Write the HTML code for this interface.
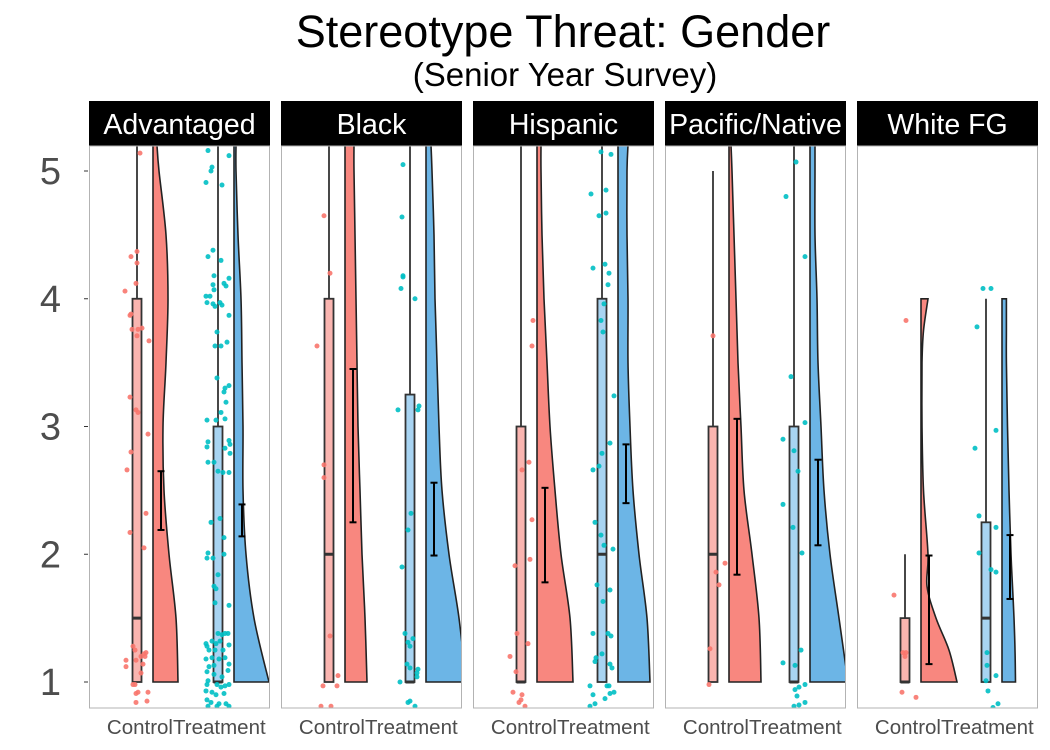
<!DOCTYPE html>
<html><head><meta charset="utf-8">
<style>
html,body{margin:0;padding:0;background:#fff;}
svg{display:block;font-family:"Liberation Sans",sans-serif;}
</style></head>
<body>
<svg id="chart" width="1050" height="750" viewBox="0 0 1050 750">
<text x="563" y="47" text-anchor="middle" font-size="45" fill="#000">Stereotype Threat: Gender</text>
<text x="565" y="86" text-anchor="middle" font-size="33" fill="#000">(Senior Year Survey)</text>
<g id="root"></g>
</svg>
<script>
const panels = ["Advantaged","Black","Hispanic","Pacific/Native","White FG"];
const groups = ["Control","Treatment"];
const yTicks = [1,2,3,4,5];
const gridA = [1,1.5,2,2.5,3,3.5,4,4.5,5,5.2];
const gridB = [1,1.25,1.5,1.75,2,2.5,3,3.5,3.75,4];
const densControl = [
 [25,23,16,11,10,13,15,13,6,4],
 [22,20,17,15,13,12,11,10,9,9],
 [36,33,24,18,13,10,7,5,4,4],
 [32,30,23,15,12,9,7,5,3,2],
 [36,28,15,6,7,2.5,1,1,2.5,7]
];
const densTreat = [
 [35,20,12,9,9,8,7,4,2,2],
 [40,33,23,16,13,11,9,8,6,5],
 [32,29,21,15,12,10,10,9,9,10],
 [38,29,20,14,11,8,7,5,5,5],
 [13.5,13,12,10.5,9,7,5.5,4.4,4.4,4.4]
];
const boxControl = [[1,1,1.5,4,5.2],[1,1,2,4,5.2],[1,1,1,3,5.2],[1,1,2,3,5],[1,1,1,1.5,2]];
const boxTreat = [[1,1,1,3,5.2],[1,1,1,3.25,5.2],[1,1,2,4,5.2],[1,1,1,3,5.2],[1,1,1.5,2.25,4]];
const errControl = [[2.19,2.65],[2.25,3.45],[1.78,2.52],[1.84,3.06],[1.14,1.99]];
const errTreat = [[2.14,2.39],[1.99,2.56],[2.40,2.86],[2.07,2.74],[1.65,2.15]];
const ptsControl = [
 [[5.14,3],[4.37,0],[4.33,-6],[4.28,0],[4.12,-1],[4.06,-12],[3.87,-7],[3.88,-6],[3.76,-5],[3.76,1],[3.77,5],[3.71,0],[3.67,12],[3.23,-7],[3.13,-1],[3.11,1],[2.94,11],[2.80,-6],[2.66,-10],[2.32,9],[2.17,-7],[2.05,7],[1.28,-4],[1.25,-2],[1.23,9],[1.22,7],[1.20,4],[1.17,-11],[1.17,-1],[1.20,8],[1.14,6],[1.12,-11],[1.07,4],[0.98,-4],[0.98,-2],[0.92,1],[0.91,-1],[0.92,11],[0.85,10],[0.84,-1]],
 [[4.65,-5],[4.20,1],[3.63,-12],[2.70,-5],[2.60,-5],[1.36,1],[1.05,9],[0.97,-6],[0.97,8],[0.81,-8],[0.81,2]],
 [[3.83,12],[3.63,11],[2.72,8],[2.66,1],[2.27,11],[1.96,9],[1.91,-6],[1.38,-4],[1.30,7],[1.20,-11],[1.08,-5],[0.92,-8],[0.90,1],[0.86,0],[0.81,4],[0.84,-2]],
 [[3.71,0],[1.93,12],[1.86,3],[1.76,6],[1.26,-3],[0.98,-4]],
 [[3.83,1],[1.68,-11],[1.23,-2],[1.20,0],[1.23,1],[0.92,-3],[0.88,11]]
];
const ptsTreat = [
 [[5.16,-10],[5.12,11],[5.03,-6],[5.00,-7],[4.91,-12],[4.89,4],[4.38,-5],[4.33,-10],[4.30,3],[4.18,-4],[4.16,11],[4.12,6],[4.10,8],[4.11,-5],[4.07,-4],[4.02,-12],[4.02,-8],[3.97,-11],[3.96,-5],[3.97,2],[3.94,-3],[3.95,4],[3.87,11],[3.74,-1],[3.63,-3],[3.63,3],[3.66,9],[3.38,-1],[3.32,11],[3.30,7],[3.27,6],[3.19,8],[3.11,3],[3.05,-2],[3.05,-11],[3.06,7],[2.89,11],[2.86,12],[2.88,-10],[2.84,-11],[2.83,7],[2.79,12],[2.72,-10],[2.72,-4],[2.65,0],[2.64,5],[2.64,11],[2.25,-7],[2.28,2],[2.13,6],[2.01,-10],[2.00,6],[1.97,-11],[1.97,-5],[1.84,0],[1.75,-4],[1.73,-2],[1.62,-3],[1.60,11],
  [1.38,0],[1.37,4],[1.38,7],[1.38,10],[1.30,-12],[1.32,-6],[1.30,-2],[1.32,2],[1.29,11],[1.28,-11],[1.25,-9],[1.25,-3],[1.25,5],[1.19,7],[1.18,-12],[1.19,-6],[1.18,1],[1.12,-9],[1.13,-4],[1.14,11],[1.08,-11],[1.09,10],[1.06,-4],[1.04,4],[1.01,-10],[0.98,-11],[0.98,-1],[0.96,3],[0.97,7],[0.98,11],[0.93,-12],[0.92,-6],[0.90,-2],[0.91,6],[0.86,-11],[0.84,-7],[0.83,1],[0.83,8],[0.81,-10],[0.81,-1],[0.81,11]],
 [[5.05,-7],[4.64,-8],[4.18,-7],[4.17,-7],[4.08,-9],[4.0,5],[3.13,-12],[3.16,9],[3.13,8],[2.32,1],[2.19,-2],[1.90,-8],[1.38,-5],[1.34,3],[1.31,-2],[1.28,0],[1.14,-3],[1.10,8],[1.07,7],[1.04,7],[1.11,0],[1.0,-10],[0.85,0],[0.84,-2],[0.81,5]],
 [[5.15,-1],[5.13,9],[4.82,-11],[4.85,4],[4.65,-3],[4.67,4],[4.24,-9],[4.27,3],[4.20,7],[4.11,6],[3.96,2],[3.83,-1],[3.74,1],[3.24,12],[2.87,8],[2.79,0],[2.69,-3],[2.66,-9],[2.25,-7],[2.15,-1],[2.07,2],[2.04,11],[1.76,-5],[1.72,8],[1.63,1],[1.38,-9],[1.38,6],[1.36,9],[1.22,0],[1.19,-6],[1.14,8],[1.11,10],[1.16,-7],[0.97,-12],[0.97,5],[0.97,7],[0.92,12],[0.90,-9],[0.87,3],[0.91,8],[0.83,-7],[0.81,-12]],
 [[5.07,2],[4.80,-8],[4.33,11],[3.39,-3],[3.03,11],[2.90,-11],[2.81,0],[2.65,4],[2.39,-11],[2.21,-1],[2.01,8],[1.25,7],[1.15,-11],[1.13,1],[0.98,11],[0.96,5],[0.94,1],[0.89,3],[0.84,11],[0.82,5],[0.81,0]],
 [[4.08,-3],[4.08,5],[3.78,-9],[2.97,10],[2.83,-11],[2.30,-7],[2.21,10],[2.01,-7],[1.88,5],[1.86,10],[1.23,1],[1.13,1],[1.05,10],[1.01,0],[0.93,2],[0.83,12],[0.80,7]]
];

const NS="http://www.w3.org/2000/svg";
const root=document.getElementById('root');
const PANEL_LEFT=89, PANEL_STEP=192, PANEL_W=181, PT=146, PB=708;
const y=v=>682-(v-1)*127.75;
function mk(tag,attrs,parent){const e=document.createElementNS(NS,tag);for(const k in attrs)e.setAttribute(k,attrs[k]);(parent||root).appendChild(e);return e;}
function smoothPath(pts){let d="M"+pts[0][0]+","+pts[0][1];for(let i=0;i<pts.length-1;i++){const p0=pts[Math.max(0,i-1)],p1=pts[i],p2=pts[i+1],p3=pts[Math.min(pts.length-1,i+2)];const c1x=p1[0]+(p2[0]-p0[0])/6,c1y=p1[1]+(p2[1]-p0[1])/6,c2x=p2[0]-(p3[0]-p1[0])/6,c2y=p2[1]-(p3[1]-p1[1])/6;d+=" C"+c1x.toFixed(1)+","+c1y.toFixed(1)+" "+c2x.toFixed(1)+","+c2y.toFixed(1)+" "+p2[0].toFixed(1)+","+p2[1].toFixed(1);}return d;}

yTicks.forEach(t=>{
  const tx=mk('text',{x:61,y:y(t)+13,'text-anchor':'end','font-size':38,fill:'#4D4D4D'});
  tx.textContent=t;
  
  
  const tk=mk('line',{x1:84,x2:88,y1:y(t),y2:y(t),stroke:'#333','stroke-width':1});
  
  
});

const cfg=[
 {box:48,err:72,dens:64,boxFill:'#FAB5B0',densFill:'#F8877F',pt:'#F8766D',anchor:'end'},
 {box:129,err:153,dens:145,boxFill:'#A8D4F2',densFill:'#6CB5E6',pt:'#00BFC4',anchor:'start'}
];
panels.forEach((name,pi)=>{
  const L=PANEL_LEFT+pi*PANEL_STEP;
  const g=mk('g',{});
  
  
  const strip=mk('rect',{x:L,y:101,width:PANEL_W,height:45,fill:'#000'},g);
  
  
  const st=mk('text',{x:L+PANEL_W/2,y:134,'text-anchor':'middle','font-size':28.5,fill:'#fff'},g);
  st.textContent=name;
  
  
  const cp=mk('clipPath',{id:'cp'+pi},g);
  mk('rect',{x:L,y:PT,width:PANEL_W,height:PB-PT},cp);
  const inner=mk('g',{'clip-path':'url(#cp'+pi+')'},g);
  const dens=[densControl[pi],densTreat[pi]], boxes=[boxControl[pi],boxTreat[pi]], errs=[errControl[pi],errTreat[pi]], pts=[ptsControl[pi],ptsTreat[pi]];
  const grid=pi===4?gridB:gridA;
  groups.forEach((gn,gi)=>{
    const c=cfg[gi];
    const dl=L+c.dens;
    const curve=grid.map((v,k)=>[dl+dens[gi][k],y(v)]);
    let d="M"+dl+","+y(grid[0])+" L"+curve[0][0]+","+curve[0][1]+smoothPath(curve).replace(/^M[^ ]+/,"")+" L"+dl+","+y(grid[grid.length-1])+" Z";
    const dp=mk('path',{d:d,fill:c.densFill,stroke:'#222','stroke-width':1.6},inner);
    
    
    const bx=L+c.box, b=boxes[gi];
    const wl=mk('line',{x1:bx,x2:bx,y1:y(b[4]),y2:y(b[3]),stroke:'#333','stroke-width':1.8},inner);
    
    
    const br=mk('rect',{x:bx-4.5,y:y(b[3]),width:9,height:Math.max(1,y(b[1])-y(b[3])),fill:c.boxFill,stroke:'#333','stroke-width':1.8},inner);
    
    
    const md=mk('line',{x1:bx-4.5,x2:bx+4.5,y1:y(b[2]),y2:y(b[2]),stroke:'#333','stroke-width':3},inner);
    
    
    pts[gi].forEach(p=>{
      const c2=mk('circle',{cx:bx+p[1],cy:y(p[0]),r:2.5,fill:c.pt,'fill-opacity':0.9},inner);
      
      
    });
    const ex=L+c.err, e=errs[gi];
    const eg=mk('g',{stroke:'#000','stroke-width':2},inner);
    
    
    mk('line',{x1:ex,x2:ex,y1:y(e[0]),y2:y(e[1])},eg);
    mk('line',{x1:ex-3.5,x2:ex+3.5,y1:y(e[0]),y2:y(e[0])},eg);
    mk('line',{x1:ex-3.5,x2:ex+3.5,y1:y(e[1]),y2:y(e[1])},eg);
    const xl=mk('text',{x:L+84,y:734,'text-anchor':c.anchor,'font-size':20.5,fill:'#4D4D4D'},g);
    xl.textContent=gn;
    
    
  });
  const border=mk('rect',{x:L+0.5,y:PT,width:PANEL_W-1,height:PB-PT,fill:'none',stroke:'#B3B3B3','stroke-width':1},g);
  
  
});
</script>
</body></html>
